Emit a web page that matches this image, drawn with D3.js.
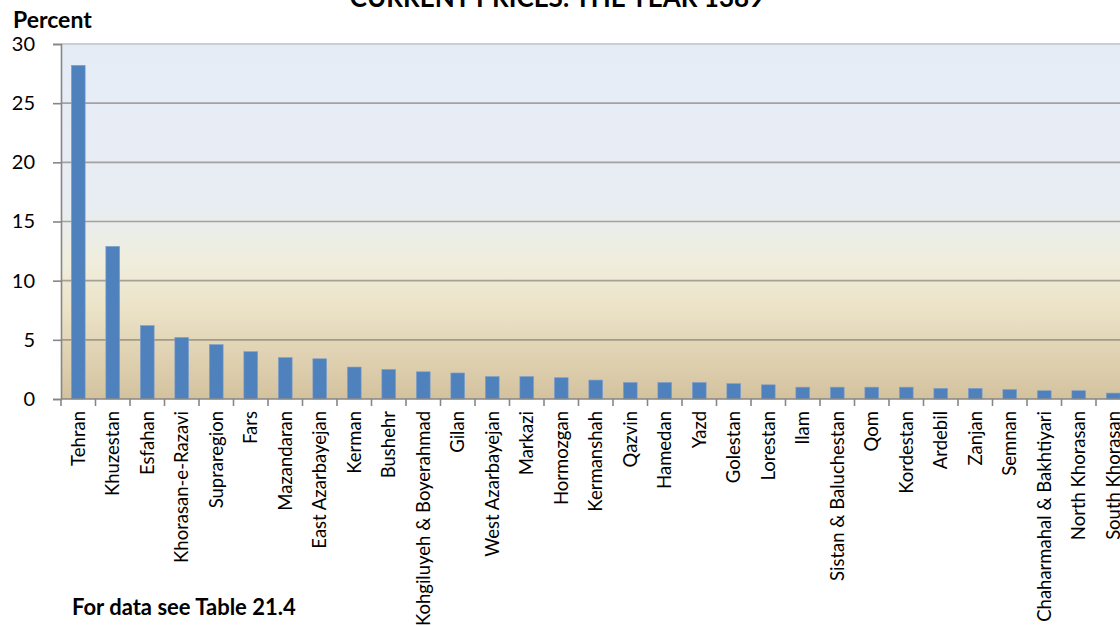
<!DOCTYPE html>
<html>
<head>
<meta charset="utf-8">
<script src="https://cdn.jsdelivr.net/npm/d3@7"></script>
<style>
  html, body { margin: 0; padding: 0; background: #fff; }
  svg { display: block; }
  text { font-family: Lato, "Noto Sans", sans-serif; fill: #000; }
</style>
</head>
<body>
<svg id="chart" width="1120" height="626"></svg>
<script>
const categories = ["Tehran","Khuzestan","Esfahan","Khorasan-e-Razavi","Supraregion","Fars","Mazandaran","East Azarbayejan","Kerman","Bushehr","Kohgiluyeh & Boyerahmad","Gilan","West Azarbayejan","Markazi","Hormozgan","Kermanshah","Qazvin","Hamedan","Yazd","Golestan","Lorestan","Ilam","Sistan & Baluchestan","Qom","Kordestan","Ardebil","Zanjan","Semnan","Chaharmahal & Bakhtiyari","North Khorasan","South Khorasan"];
const values = [28.2,12.9,6.2,5.2,4.6,4.0,3.5,3.4,2.7,2.5,2.3,2.2,1.9,1.9,1.8,1.6,1.4,1.4,1.4,1.3,1.2,1.0,1.0,1.0,1.0,0.9,0.9,0.8,0.7,0.7,0.5];
const yTicks = [0,5,10,15,20,25,30];
const titleText = "CURRENT PRICES: THE YEAR 1389";
const yLabel = "Percent";
const noteText = "For data see Table 21.4";

(function () {
const svg = d3.select("#chart");
const W = 1120;
const mLeft = 61, mTop = 44, mBottom = 399;
const step = 34.5;
const mRight = mLeft + step * categories.length;

const x = d3.scaleBand().domain(categories).range([mLeft, mRight]).paddingInner(0.6).paddingOuter(0.3);
const y = d3.scaleLinear().domain([0, 30]).range([mBottom, mTop]);

const defs = svg.append("defs");
const grad = defs.append("linearGradient").attr("id", "bg").attr("x1", 0).attr("y1", 0).attr("x2", 0).attr("y2", 1);
[[0, "#E6ECF6"], [0.45, "#E8EDF3"], [0.62, "#EFEDDC"], [0.74, "#ECE3C8"], [1, "#D4C29E"]].forEach(([o, c]) =>
  grad.append("stop").attr("offset", o).attr("stop-color", c));

svg.append("rect").attr("x", mLeft).attr("y", mTop).attr("width", W - mLeft).attr("height", mBottom - mTop).attr("fill", "url(#bg)");

svg.append("line").attr("x1", mLeft).attr("x2", W).attr("y1", mTop).attr("y2", mTop)
  .attr("stroke", "#C9CDD5").attr("stroke-width", 2);

svg.append("g").selectAll("line").data(yTicks.filter(d => d > 0 && d < 30)).join("line")
  .attr("x1", mLeft).attr("x2", W).attr("y1", d => y(d)).attr("y2", d => y(d))
  .attr("stroke", "#7F7A74").attr("stroke-opacity", 0.65).attr("stroke-width", 1.6);

svg.append("g").selectAll("rect").data(values).join("rect")
  .attr("x", (d, i) => x(categories[i]))
  .attr("width", x.bandwidth())
  .attr("y", d => y(d))
  .attr("height", d => y(0) - y(d))
  .attr("fill", "#4F81BD")
  .attr("stroke", "#7FA1CF").attr("stroke-width", 0.6);

const yAxis = svg.append("g").attr("transform", `translate(${mLeft},0)`)
  .call(d3.axisLeft(y).tickValues(yTicks).tickSize(8).tickPadding(18).tickFormat(d3.format("d")));
yAxis.select(".domain").attr("stroke", "#868686").attr("stroke-width", 1.6);
yAxis.selectAll(".tick line").attr("stroke", "#868686").attr("stroke-width", 1.6);
yAxis.selectAll(".tick text").attr("font-size", 20).attr("font-family", "Lato, sans-serif").attr("fill", "#000");

const xAxis = svg.append("g").attr("transform", `translate(0,${mBottom})`)
  .call(d3.axisBottom(x).tickSize(0).tickSizeOuter(0));
xAxis.select(".domain").attr("stroke", "#868686").attr("stroke-width", 1.6).attr("d", `M${mLeft},0H${W}`);
xAxis.selectAll(".tick text")
  .attr("font-size", 18.5).attr("font-family", "Lato, sans-serif").attr("fill", "#000")
  .attr("text-anchor", "end")
  .attr("transform", "rotate(-90)")
  .attr("x", -12).attr("y", 0).attr("dy", "0.35em");
svg.append("g").selectAll("line").data(d3.range(categories.length + 1)).join("line")
  .attr("x1", i => mLeft + i * step).attr("x2", i => mLeft + i * step)
  .attr("y1", mBottom).attr("y2", mBottom + 7)
  .attr("stroke", "#868686").attr("stroke-width", 1.6);

svg.append("text").attr("x", 557).attr("y", 7).attr("text-anchor", "middle")
  .attr("font-weight", "bold").attr("font-size", 26).text(titleText);
svg.append("text").attr("x", 13).attr("y", 28).attr("font-weight", "bold").attr("font-size", 23).text(yLabel);
svg.append("text").attr("x", 72).attr("y", 615).attr("font-weight", "bold").attr("font-size", 22).text(noteText);
})();
</script>
</body>
</html>
